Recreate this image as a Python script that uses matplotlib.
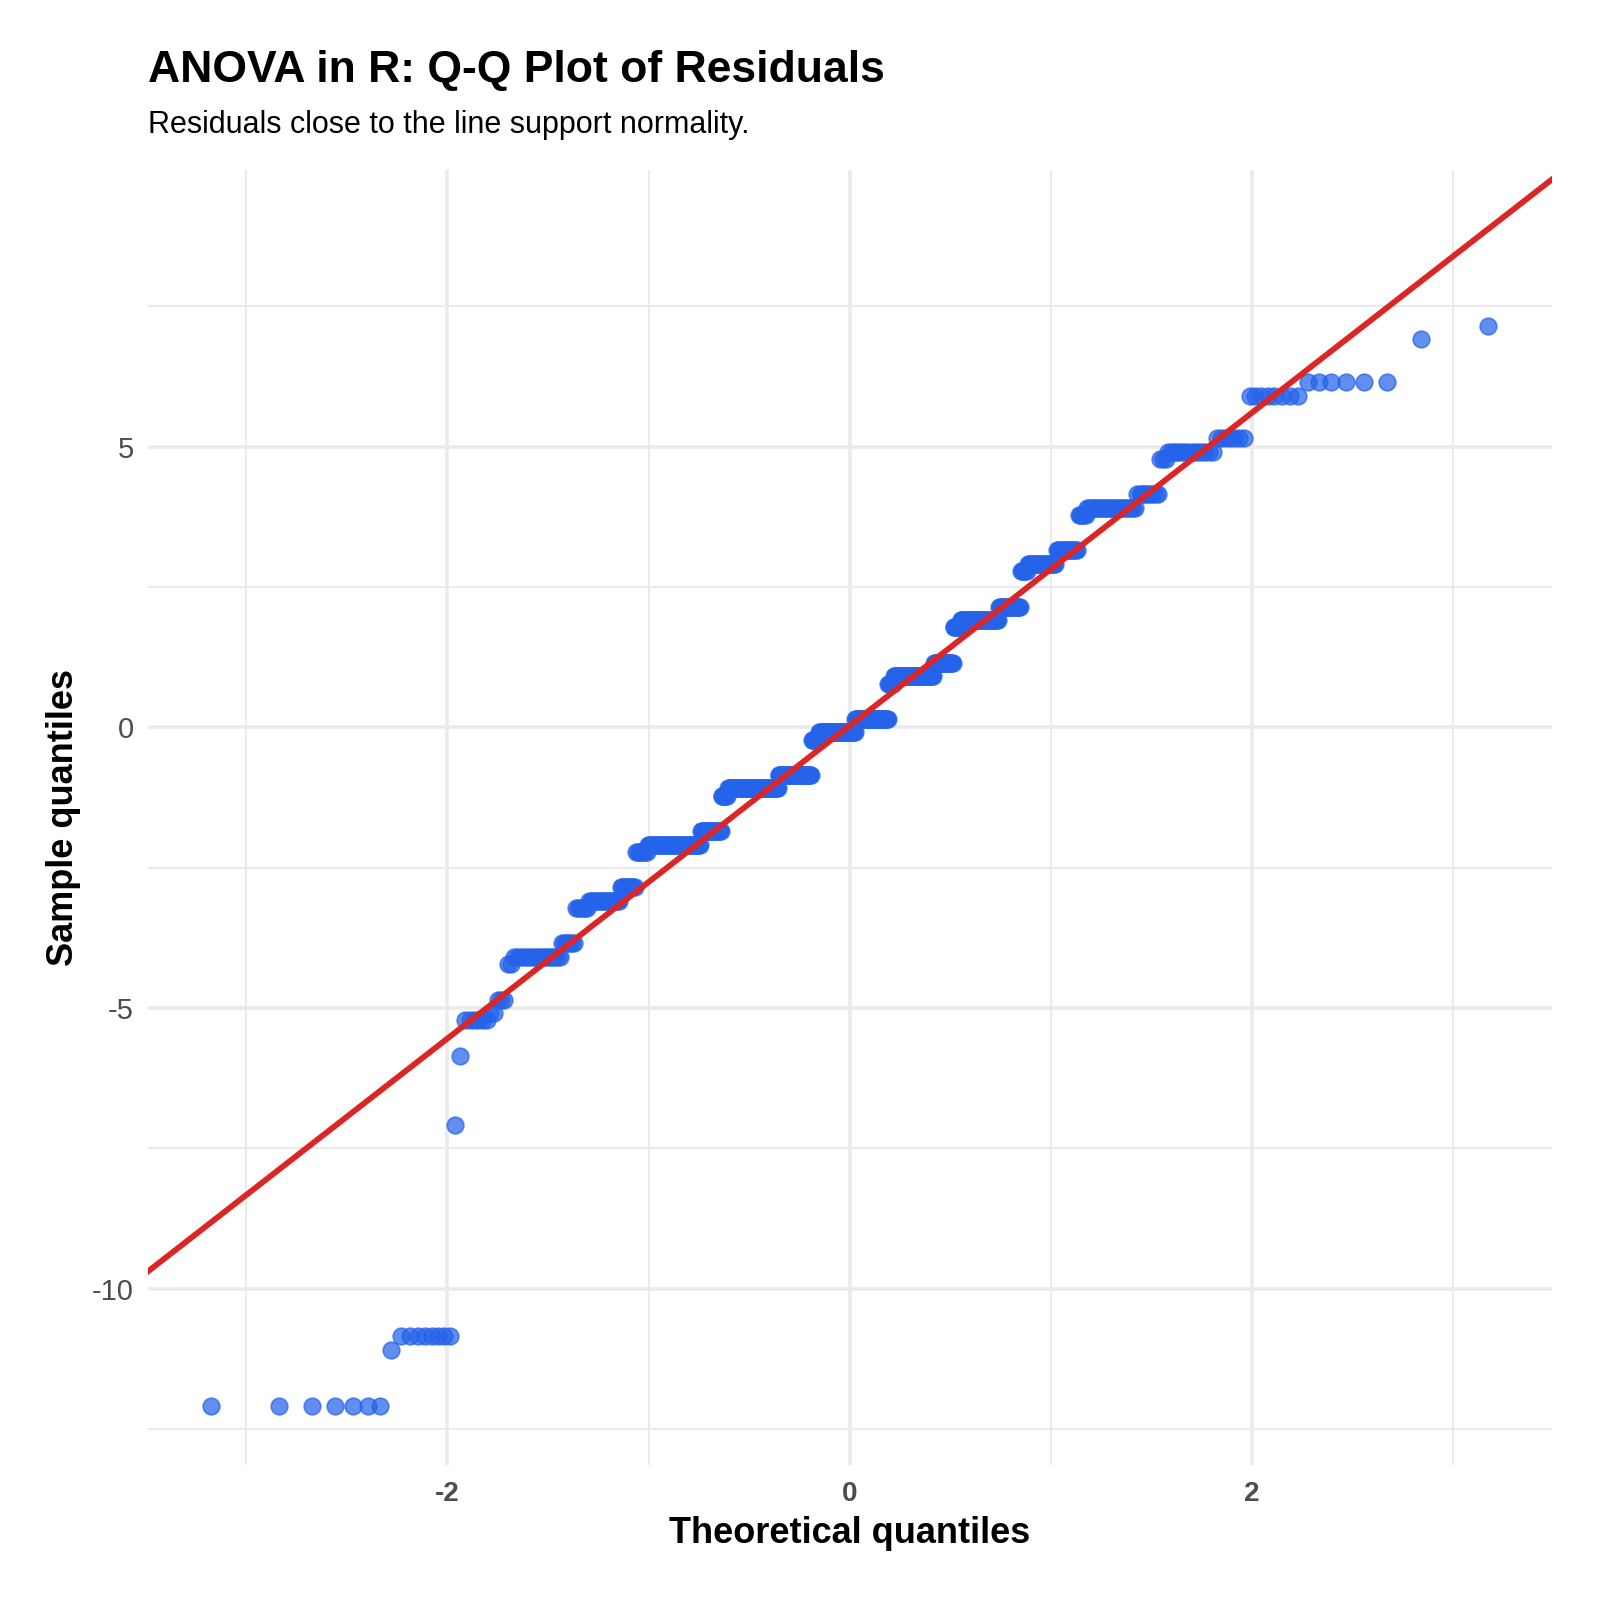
import matplotlib
matplotlib.use("Agg")
import matplotlib.pyplot as plt
import numpy as np
from statistics import NormalDist

# sorted ANOVA residuals, stored as distinct level -> how many observations
residual_levels = [-12.09, -11.09, -10.85, -7.09, -5.85, -5.22, -5.09, -4.85, -4.22, -4.09,
                   -3.85, -3.22, -3.09, -2.85, -2.22, -2.09, -1.85, -1.22, -1.09, -0.85,
                   -0.22, -0.09, 0.15, 0.78, 0.91, 1.15, 1.78, 1.91, 2.15, 2.78,
                   2.91, 3.15, 3.78, 3.91, 4.15, 4.78, 4.91, 5.15, 5.91, 6.15,
                   6.91, 7.15]
level_counts = [7, 1, 8, 1, 1, 6, 2, 3, 2, 19,
                7, 7, 20, 11, 9, 48, 21, 7, 59, 42,
                10, 47, 43, 7, 50, 23, 8, 41, 21, 6,
                24, 16, 6, 28, 10, 3, 15, 7, 8, 6,
                1, 1]

title = "ANOVA in R: Q-Q Plot of Residuals"
subtitle = "Residuals close to the line support normality."
x_label = "Theoretical quantiles"
y_label = "Sample quantiles"

point_color = "#2563EB"
line_color = "#DC2626"
grid_color = "#EBEBEB"

plt.rcParams['font.family'] = ['Liberation Sans', 'DejaVu Sans']

# qq stat, like R's qqnorm / ggplot stat_qq
sample = np.sort(np.repeat(residual_levels, level_counts))
n = len(sample)
probs = (np.arange(1, n + 1) - 0.5) / n
nd = NormalDist()
theoretical = np.array([nd.inv_cdf(p) for p in probs])

# qq line through the quartiles (qqline)
q1, q3 = np.percentile(sample, [25, 75])
z1, z3 = nd.inv_cdf(0.25), nd.inv_cdf(0.75)
slope = (q3 - q1) / (z3 - z1)
intercept = q1 - slope * z1

fig = plt.figure(figsize=(8, 8), dpi=200)
ax = fig.add_axes([0.0923, 0.0845, 0.8775, 0.809])

xmin, xmax = theoretical.min(), theoretical.max()
xpad = (xmax - xmin) * 0.05
ylo = min(sample.min(), intercept + slope * xmin)
yhi = max(sample.max(), intercept + slope * xmax)
ypad = (yhi - ylo) * 0.05
ax.set_xlim(xmin - xpad, xmax + xpad)
ax.set_ylim(ylo - ypad, yhi + ypad)

ax.scatter(theoretical, sample, s=36, color=point_color, alpha=0.72,
           edgecolors=point_color, linewidths=0.6, zorder=3)
xl = np.array(ax.get_xlim())
ax.plot(xl, intercept + slope * xl, color=line_color, lw=2.1, zorder=4)

ax.set_xticks([-2, 0, 2])
ax.set_xticks([-3, -1, 1, 3], minor=True)
ax.set_yticks([-10, -5, 0, 5])
ax.set_yticks([-12.5, -7.5, -2.5, 2.5, 7.5], minor=True)
ax.grid(which='major', color=grid_color, lw=1.3, zorder=0)
ax.grid(which='minor', color=grid_color, lw=0.7, zorder=0)
ax.set_axisbelow(True)
for s in ax.spines.values():
    s.set_visible(False)
ax.tick_params(which='both', length=0)
ax.tick_params(axis='x', pad=6, labelsize=10, labelcolor="#4D4D4D")
ax.tick_params(axis='y', pad=5, labelsize=10.5, labelcolor="#4D4D4D")
ax.set_xticklabels(['-2', '0', '2'], fontweight='bold')
ax.set_yticklabels(['-10', '-5', '0', '5'])

ax.set_xlabel(x_label, fontsize=13, fontweight='bold', labelpad=3)
ax.set_ylabel(y_label, fontsize=13, fontweight='bold', labelpad=4)

fig.text(0.0923, 0.949, title, fontsize=16, fontweight='bold', va='baseline')
fig.text(0.0923, 0.917, subtitle, fontsize=11, va='baseline')

fig.savefig("out.png", dpi=200, facecolor='white')
